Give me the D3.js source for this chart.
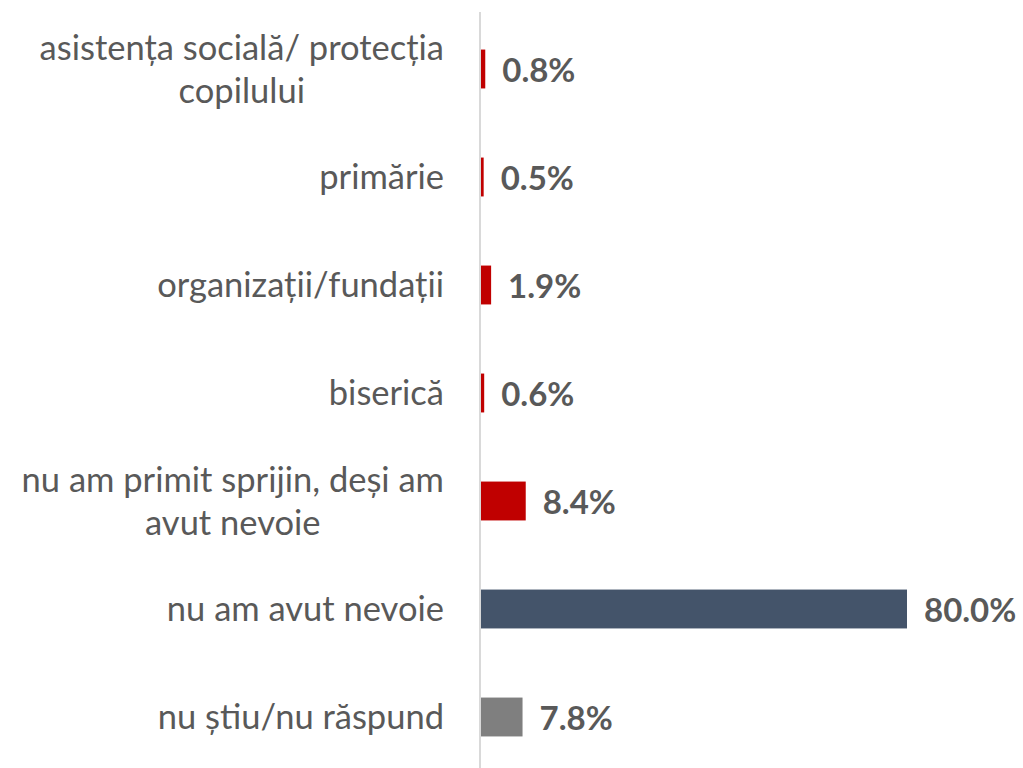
<!DOCTYPE html>
<html>
<head>
<meta charset="utf-8">
<script src="https://cdn.jsdelivr.net/npm/d3@7"></script>
<style>
  html, body { margin: 0; padding: 0; background: #fff; }
  #chart { width: 1023px; height: 768px; }
  text { font-family: Lato, "Open Sans", sans-serif; }
</style>
</head>
<body>
<div id="chart"></div>
<script>
// --- Données
const categories = [
  'asistența socială/ protecția copilului',
  'primărie',
  'organizații/fundații',
  'biserică',
  'nu am primit sprijin, deși am avut nevoie',
  'nu am avut nevoie',
  'nu știu/nu răspund'
];
// retours à la ligne comme dans l'original
const labelLines = [
  ['asistența socială/ protecția', 'copilului'],
  ['primărie'],
  ['organizații/fundații'],
  ['biserică'],
  ['nu am primit sprijin, deși am', 'avut nevoie'],
  ['nu am avut nevoie'],
  ['nu știu/nu răspund']
];
const values = [0.8, 0.5, 1.9, 0.6, 8.4, 80.0, 7.8];
const colors = ['#C00000', '#C00000', '#C00000', '#C00000', '#C00000', '#44546A', '#7F7F7F'];

const width = 1023, height = 768;
const svg = d3.select('#chart').append('svg')
  .attr('width', width).attr('height', height);

const x = d3.scaleLinear().domain([0, 80]).range([481, 907]);
const y = d3.scaleBand().domain(categories).range([15, 771])
  .paddingInner(0.64).paddingOuter(0.32);

// barres
svg.append('g').selectAll('rect').data(categories).join('rect')
  .attr('x', x(0))
  .attr('y', d => y(d))
  .attr('width', (d, i) => x(values[i]) - x(0))
  .attr('height', y.bandwidth())
  .attr('fill', (d, i) => colors[i]);

// axe vertical
svg.append('line')
  .attr('x1', 480).attr('x2', 480)
  .attr('y1', 12).attr('y2', height)
  .attr('stroke', '#d9d9d9').attr('stroke-width', 2);

// étiquettes catégories : bloc aligné à droite, lignes centrées
const lineH = 43, labelRight = 444;
const labels = svg.append('g').selectAll('text').data(categories).join('text')
  .attr('text-anchor', 'middle')
  .attr('fill', '#595959')
  .attr('font-size', 34.5);
labels.each(function (d, i) {
  const lines = labelLines[i];
  const cy = y(d) + y.bandwidth() / 2;
  const first = cy + 12 - (lines.length - 1) * lineH / 2;
  const spans = d3.select(this).selectAll('tspan').data(lines).join('tspan')
    .attr('y', (t, j) => first + j * lineH)
    .text(t => t);
  const maxW = d3.max(spans.nodes(), n => n.getComputedTextLength());
  spans.attr('x', labelRight - maxW / 2);
});

// valeurs
svg.append('g').selectAll('text').data(categories).join('text')
  .attr('x', (d, i) => x(values[i]) + 17)
  .attr('y', d => y(d) + y.bandwidth() / 2 + 13)
  .attr('fill', '#595959')
  .attr('font-size', 33)
  .attr('font-weight', 'bold')
  .text((d, i) => values[i].toFixed(1) + '%');
</script>
</body>
</html>
